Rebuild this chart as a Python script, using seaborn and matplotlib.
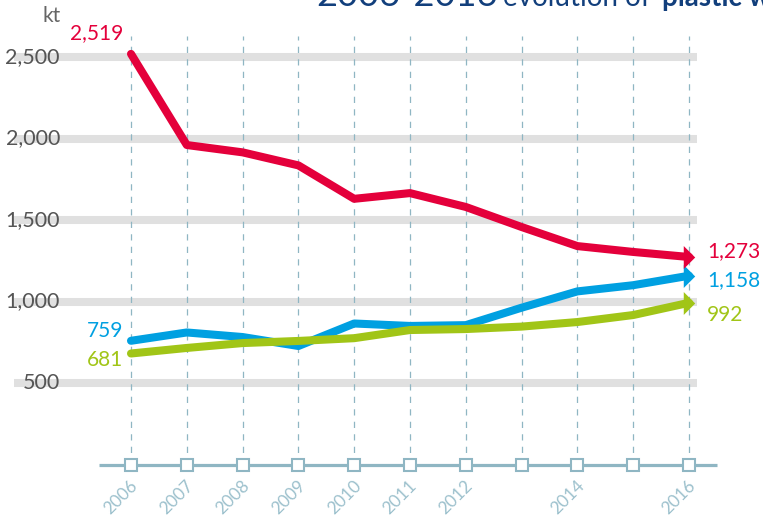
import matplotlib
matplotlib.use("Agg")
import matplotlib.pyplot as plt
from matplotlib.path import Path
import matplotlib.transforms as mtransforms
import numpy as np
import pandas as pd
import seaborn as sns

# --- data -------------------------------------------------------------
years = [2006, 2007, 2008, 2009, 2010, 2011, 2012, 2013, 2014, 2015, 2016]
year_labels = ["2006", "2007", "2008", "2009", "2010", "2011", "2012", "", "2014", "", "2016"]
landfill = [2519, 1960, 1915, 1835, 1630, 1665, 1580, 1457, 1340, 1304, 1273]
recycling = [759, 810, 782, 727, 865, 850, 855, 962, 1062, 1100, 1158]
energy_recovery = [681, 715, 745, 758, 775, 825, 831, 846, 874, 917, 992]
y_ticks = [500, 1000, 1500, 2000, 2500]
y_tick_labels = ["500", "1,000", "1,500", "2,000", "2,500"]

series_names = ["recycling", "energy recovery", "landfill"]
series_values = [recycling, energy_recovery, landfill]
colors = {"landfill": "#e4003b", "recycling": "#00a0e1", "energy recovery": "#a1c517"}

pos = list(range(len(years)))
df = pd.concat(
    [pd.DataFrame({"pos": pos, "value": v, "series": n}) for n, v in zip(series_names, series_values)],
    ignore_index=True,
)

# --- styling ----------------------------------------------------------
sns.set_theme(style="white")
plt.rcParams["font.family"] = ["Lato", "DejaVu Sans"]

axis_col = "#8fb6c3"
label_col = "#9dc1cd"
band_col = "#e0e0e0"
title_col = "#123f7c"

W, H, DPI = 763, 517, 100
fig = plt.figure(figsize=(W / DPI, H / DPI), dpi=DPI)
ax = fig.add_axes([0, 0, 1, 1])
ax.set_axis_off()

# pixel layout: year step 55.8 px starting at x=131, 163 px per 1000 kt with 500 at y=383
x_step, x0 = 55.8, 131.0
px_per_kt = 163.0 / 1000.0
ax.set_xlim(-x0 / x_step, (W - x0) / x_step)
ax.set_ylim(500 - (H - 383) / px_per_kt, 500 + 383 / px_per_kt)

# horizontal grey bands
for t in y_ticks:
    ax.axhline(t, xmin=14 / W, xmax=697 / W, color=band_col, lw=5.8, zorder=0, solid_capstyle="butt")

# y tick labels
ylab_tr = mtransforms.blended_transform_factory(fig.transFigure, ax.transData)
for t, lab in zip(y_ticks, y_tick_labels):
    ax.text(60 / W, t, lab, transform=ylab_tr, ha="right", va="center",
            fontsize=15.5, color="#555555", zorder=3)
fig.text(43 / W, 1 - 16 / H, "kt", fontsize=15, color="#666666", ha="left", va="center")

# vertical dashed guides
ax.vlines(pos, 0, 500 + (383 - 36) / px_per_kt, colors=axis_col, lw=0.9,
          linestyles=(0, (5, 5)), zorder=1)

# base axis with square markers
ax.plot([-(x0 - 99) / x_step, (717 - x0) / x_step], [0, 0], color=axis_col, lw=2.3,
        zorder=2, solid_capstyle="butt")
ax.plot(pos, [0] * len(pos), ls="none", marker="s", ms=8.5, mfc="white", mec=axis_col,
        mew=1.5, zorder=3)
for p, lab in zip(pos, year_labels):
    if lab:
        ax.annotate(lab, (p, 0), xytext=(10, -13), textcoords="offset pixels",
                    rotation=45, ha="right", va="top", fontsize=12.5, color=label_col)

# series lines
sns.lineplot(data=df, x="pos", y="value", hue="series", hue_order=series_names,
             palette=colors, lw=5.8, legend=False, ax=ax,
             solid_capstyle="round", solid_joinstyle="round", zorder=4)

# arrow heads at the last point
arrow = Path([(-0.5, -1.0), (0.5, 0.0), (-0.5, 1.0), (-0.5, -1.0)],
             [Path.MOVETO, Path.LINETO, Path.LINETO, Path.CLOSEPOLY])
for n, v in zip(series_names, series_values):
    ax.plot(pos[-1], v[-1], marker=arrow, ms=16.5, color=colors[n], mew=0, zorder=5)

# value labels
def fmt(v):
    return f"{v:,}"

lab_fs = 15
ax.annotate(fmt(landfill[0]), (pos[0], landfill[0]), xytext=(-8, 21), textcoords="offset pixels",
            ha="right", va="center", fontsize=lab_fs, color=colors["landfill"])
ax.annotate(fmt(recycling[0]), (pos[0], recycling[0]), xytext=(-8, 10), textcoords="offset pixels",
            ha="right", va="center", fontsize=lab_fs, color=colors["recycling"])
ax.annotate(fmt(energy_recovery[0]), (pos[0], energy_recovery[0]), xytext=(-8, -7),
            textcoords="offset pixels", ha="right", va="center", fontsize=lab_fs,
            color=colors["energy recovery"])
ax.annotate(fmt(landfill[-1]), (pos[-1], landfill[-1]), xytext=(18, 6), textcoords="offset pixels",
            ha="left", va="center", fontsize=lab_fs, color=colors["landfill"])
ax.annotate(fmt(recycling[-1]), (pos[-1], recycling[-1]), xytext=(18, -4), textcoords="offset pixels",
            ha="left", va="center", fontsize=lab_fs, color=colors["recycling"])
ax.annotate(fmt(energy_recovery[-1]), (pos[-1], energy_recovery[-1]), xytext=(18, -12),
            textcoords="offset pixels", ha="left", va="center", fontsize=lab_fs,
            color=colors["energy recovery"])

# title, running off the top edge
fig.text(316 / W, 1 - 6 / H, "2006-2016", fontsize=26, color=title_col, ha="left", va="baseline")
fig.text(503 / W, 1 - 6 / H, "evolution of", fontsize=20, color=title_col, ha="left",
         va="baseline", fontweight="normal")
fig.text(662 / W, 1 - 6 / H, "plastic waste treatment", fontsize=20, color=title_col,
         ha="left", va="baseline", fontweight="bold")

fig.savefig("out.png", dpi=DPI)
